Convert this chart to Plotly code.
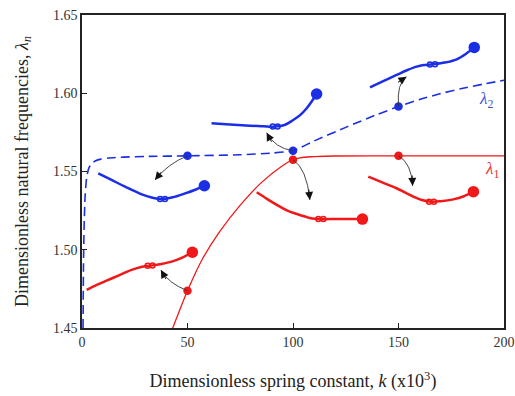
import math
import plotly.graph_objects as go

BLUE = "#1a2ee6"
RED = "#f01818"
FONT = "Liberation Serif"

# Main curves
lam2_k = [0.5, 0.7, 1.0, 1.5, 2.2, 3.2, 4.6, 6.5, 9, 12.4, 20, 30, 50, 75, 90, 100, 110, 125, 140, 150, 160, 170, 180, 190, 200]
lam2_v = [1.45, 1.49, 1.515, 1.535, 1.546, 1.552, 1.5552, 1.5569, 1.5579, 1.5586, 1.5592, 1.5596, 1.5600, 1.5607, 1.5618, 1.5633, 1.5695, 1.5782, 1.5865, 1.5915, 1.5960, 1.5998, 1.6030, 1.6058, 1.6083]

lam1_k = [43, 50, 57, 65, 75, 85, 95, 100, 105, 110, 120, 150, 200]
lam1_v = [1.45, 1.4738, 1.4939, 1.5111, 1.5285, 1.5429, 1.5537, 1.5575, 1.5591, 1.5595, 1.5599, 1.5600, 1.5600]

# Marked points on curves (arrow origins)
b_pts_k = [50, 100, 150]
b_pts_v = [1.5600, 1.5633, 1.5915]
r_pts_k = [50, 100, 150]
r_pts_v = [1.4738, 1.5575, 1.5600]

# Mode shape insets (blue)
bm1_k = [7.7, 14, 20.4, 28.3, 33, 38, 43, 48.8, 54, 58]
bm1_v = [1.5488, 1.5446, 1.5403, 1.5354, 1.5334, 1.5324, 1.5335, 1.5360, 1.5385, 1.5409]
bm2_k = [61.4, 70, 79.6, 86, 91.5, 96, 100.1, 103.5, 106.5, 109, 111.2]
bm2_v = [1.5808, 1.5801, 1.5793, 1.5789, 1.5787, 1.5797, 1.5829, 1.5862, 1.5904, 1.5950, 1.5995]
bm3_k = [136.5, 143, 149.1, 154, 158.6, 162, 166, 172, 177.6, 182.3, 185.9]
bm3_v = [1.6038, 1.6079, 1.6117, 1.6147, 1.6170, 1.6180, 1.6185, 1.6196, 1.6217, 1.6255, 1.6293]
# Mode shape insets (red)
rm1_k = [2.2, 7, 12.5, 18, 23.5, 28, 32.2, 37, 42.5, 47.5, 52.3]
rm1_v = [1.4743, 1.4775, 1.4807, 1.4840, 1.4871, 1.4890, 1.4898, 1.4908, 1.4924, 1.4950, 1.4984]
rm2_k = [82.8, 88, 93.8, 97.6, 101.5, 105.7, 109, 113.2, 120, 127, 132.9]
rm2_v = [1.5367, 1.5322, 1.5275, 1.5248, 1.5230, 1.5212, 1.5200, 1.5196, 1.5196, 1.5196, 1.5196]
rm3_k = [135.7, 142, 149.1, 153, 157, 161, 165.6, 170, 176, 181, 185.5]
rm3_v = [1.5467, 1.5432, 1.5393, 1.5366, 1.5339, 1.5318, 1.5307, 1.5310, 1.5322, 1.5342, 1.5371]

# double-circle positions
bdc_k = [37.0, 39.3, 90.4, 92.7, 164.9, 167.3]
bdc_v = [1.5324, 1.5324, 1.5787, 1.5787, 1.6184, 1.6186]
rdc_k = [31.1, 33.4, 112.0, 114.4, 164.5, 166.8]
rdc_v = [1.4897, 1.4899, 1.5196, 1.5196, 1.5307, 1.5307]

# Arrows: start, control, end
arrows = [
    (50, 1.5600, 40.9, 1.5552, 34.6, 1.5446),
    (100, 1.5633, 91.5, 1.5648, 87.5, 1.5748),
    (100, 1.5575, 106.5, 1.5520, 108.0, 1.5318),
    (150, 1.5915, 149.1, 1.6064, 153.8, 1.6106),
    (150, 1.5600, 156.2, 1.5552, 156.7, 1.5408),
    (50, 1.4738, 40.9, 1.4786, 37.4, 1.4870),
]

X_RANGE = [0, 200]
Y_RANGE = [1.45, 1.65]
W, H = 515, 396
M = dict(l=82, r=11, t=15, b=68)

fig = go.Figure()

fig.add_trace(go.Scatter(x=lam2_k, y=lam2_v, mode="lines",
                         line=dict(color=BLUE, width=1.6, dash="9px,5px", shape="spline", smoothing=0.6),
                         hoverinfo="skip"))
fig.add_trace(go.Scatter(x=lam1_k, y=lam1_v, mode="lines",
                         line=dict(color=RED, width=1.3, shape="spline", smoothing=0.8), hoverinfo="skip"))

for mk, mv, col in [(bm1_k, bm1_v, BLUE), (bm2_k, bm2_v, BLUE), (bm3_k, bm3_v, BLUE),
                    (rm1_k, rm1_v, RED), (rm2_k, rm2_v, RED), (rm3_k, rm3_v, RED)]:
    fig.add_trace(go.Scatter(x=mk, y=mv, mode="lines",
                             line=dict(color=col, width=2.5, shape="spline"), hoverinfo="skip"))
    fig.add_trace(go.Scatter(x=[mk[-1]], y=[mv[-1]], mode="markers",
                             marker=dict(color=col, size=11.5), hoverinfo="skip"))

fig.add_trace(go.Scatter(x=bdc_k, y=bdc_v, mode="markers",
                         marker=dict(symbol="circle-open", color=BLUE, size=5, line=dict(width=1.5, color=BLUE)),
                         hoverinfo="skip"))
fig.add_trace(go.Scatter(x=rdc_k, y=rdc_v, mode="markers",
                         marker=dict(symbol="circle-open", color=RED, size=5, line=dict(width=1.5, color=RED)),
                         hoverinfo="skip"))

fig.add_trace(go.Scatter(x=b_pts_k, y=b_pts_v, mode="markers",
                         marker=dict(color=BLUE, size=8.5), hoverinfo="skip"))
fig.add_trace(go.Scatter(x=r_pts_k, y=r_pts_v, mode="markers",
                         marker=dict(color=RED, size=8.5), hoverinfo="skip"))

kx = (W - M["l"] - M["r"]) / (X_RANGE[1] - X_RANGE[0])
ky = (H - M["t"] - M["b"]) / (Y_RANGE[1] - Y_RANGE[0])

shapes = []
annotations = []
for (x0, y0, cx, cy, x1, y1) in arrows:
    shapes.append(dict(type="path", xref="x", yref="y",
                       path=f"M {x0},{y0} Q {cx},{cy} {x1},{y1}",
                       line=dict(color="#333333", width=0.9)))
    dx = (cx - x1) * kx
    dy = -(cy - y1) * ky
    n = math.hypot(dx, dy)
    L = 12
    annotations.append(dict(x=x1, y=y1, ax=dx / n * L, ay=dy / n * L,
                            xref="x", yref="y", text="",
                            showarrow=True, arrowhead=2, arrowsize=1.6, arrowwidth=1,
                            arrowcolor="#111111", standoff=0, startstandoff=0))

annotations.append(dict(x=191.5, y=1.5957, xref="x", yref="y", showarrow=False,
                        text="<i>λ</i><sub>2</sub>", font=dict(family=FONT, size=17, color="#3a55d0")))
annotations.append(dict(x=194.3, y=1.551, xref="x", yref="y", showarrow=False,
                        text="<i>λ</i><sub>1</sub>", font=dict(family=FONT, size=17, color="#e83030")))

fig.update_layout(
    width=W, height=H,
    margin=M,
    paper_bgcolor="white", plot_bgcolor="white",
    showlegend=False,
    font=dict(family=FONT, size=14, color="#222222"),
    shapes=shapes, annotations=annotations,
)
fig.update_xaxes(range=X_RANGE, tickvals=[0, 50, 100, 150, 200], automargin=False,
                 ticks="inside", ticklen=5, tickcolor="#222", showgrid=False, zeroline=False,
                 showline=True, linecolor="#222222", linewidth=1.5, mirror=True,
                 tickfont=dict(family=FONT, size=14, color="#333"),
                 title=dict(text="Dimensionless spring constant, <i>k</i> (x10<sup>3</sup>)",
                            font=dict(family=FONT, size=18, color="#222"), standoff=26))
fig.update_yaxes(range=Y_RANGE, tickvals=[1.45, 1.50, 1.55, 1.60, 1.65], tickformat=".2f", automargin=False,
                 ticks="inside", ticklen=5, tickcolor="#222", showgrid=False, zeroline=False,
                 showline=True, linecolor="#222222", linewidth=1.5, mirror=True,
                 tickfont=dict(family=FONT, size=14, color="#333"),
                 title=dict(text="Dimensionless natural frequencies, <i>λ<sub>n</sub></i>",
                            font=dict(family=FONT, size=18, color="#222"), standoff=20))

fig.write_html("out.html")
